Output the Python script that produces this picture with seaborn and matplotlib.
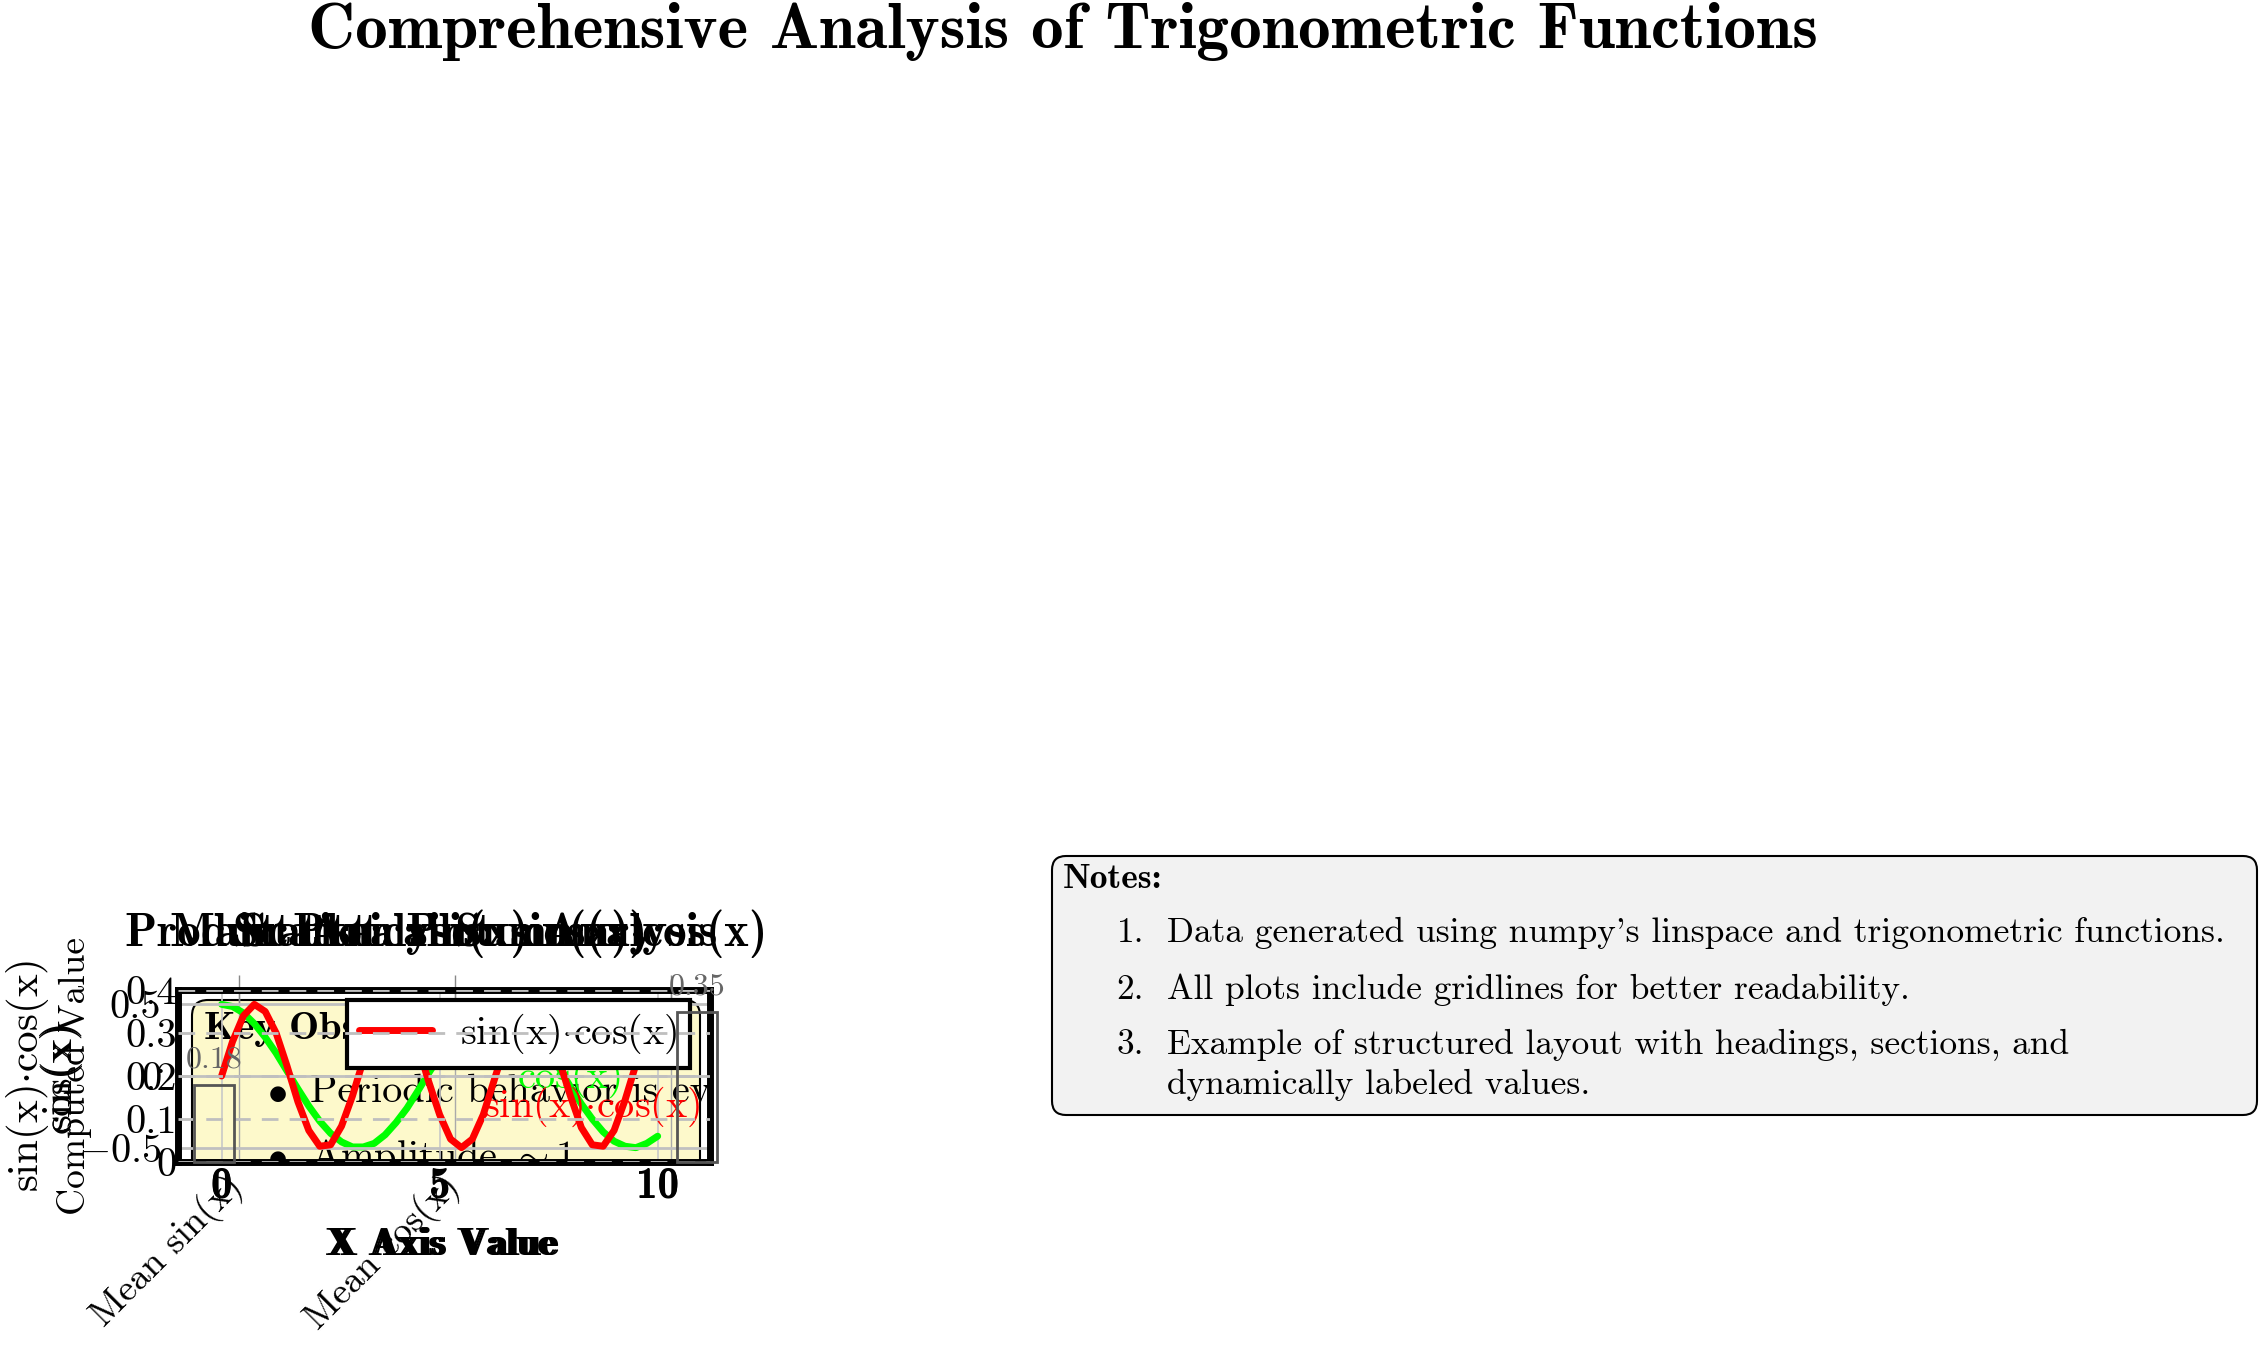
import numpy as np
import pandas as pd
import matplotlib
matplotlib.use("Agg")
import matplotlib.pyplot as plt
import seaborn as sns
from matplotlib.patches import FancyBboxPatch

# values
x_vals = [0.0, 0.25, 0.5, 0.75, 1.0, 1.25, 1.5, 1.75, 2.0, 2.25, 2.5, 2.75, 3.0, 3.25, 3.5, 3.75,
          4.0, 4.25, 4.5, 4.75, 5.0, 5.25, 5.5, 5.75, 6.0, 6.25, 6.5, 6.75, 7.0, 7.25, 7.5, 7.75,
          8.0, 8.25, 8.5, 8.75, 9.0, 9.25, 9.5, 9.75, 10.0]
cos_vals = [1.00, 0.97, 0.88, 0.73, 0.54, 0.32, 0.07, -0.18, -0.42, -0.63, -0.80, -0.92, -0.99, -0.99, -0.94, -0.82,
            -0.65, -0.45, -0.21, 0.04, 0.28, 0.51, 0.71, 0.86, 0.96, 1.00, 0.98, 0.89, 0.75, 0.57, 0.35, 0.10,
            -0.15, -0.39, -0.60, -0.78, -0.91, -0.98, -1.00, -0.94, -0.84]
prod_vals = [0.00, 0.24, 0.42, 0.50, 0.45, 0.30, 0.07, -0.18, -0.38, -0.49, -0.48, -0.35, -0.14, 0.11, 0.33, 0.47,
             0.49, 0.40, 0.21, -0.04, -0.27, -0.44, -0.50, -0.44, -0.27, -0.03, 0.21, 0.40, 0.50, 0.47, 0.33, 0.10,
             -0.14, -0.36, -0.48, -0.49, -0.38, -0.17, 0.08, 0.30, 0.46]
summary_labels = ["Mean sin(x)", "Mean cos(x)"]
summary_values = [0.18, 0.35]
x_ticks = [0, 5, 10]
prod_ticks = [-0.5, 0, 0.5]
summary_ticks = [0, 0.1, 0.2, 0.3, 0.4]
observations = ["Periodic behavior is evident", r"Amplitude $\sim$1"]
notes = [
    ("1.", ["Data generated using numpy's linspace and trigonometric functions."]),
    ("2.", ["All plots include gridlines for better readability."]),
    ("3.", ["Example of structured layout with headings, sections, and",
            "dynamically labeled values."]),
]

sns.set_style("white")
plt.rcParams["font.family"] = ["cmr10", "DejaVu Serif"]
plt.rcParams["mathtext.fontset"] = "cm"
plt.rcParams["axes.unicode_minus"] = False
for key in ["text.color", "axes.labelcolor", "xtick.color", "ytick.color"]:
    plt.rcParams[key] = "black"
BOLD = ["cmb10", "DejaVu Serif"]
PROD = r"sin(x)$\cdot$cos(x)"
FS = 29

W, H = 2260, 1369
fig = plt.figure(figsize=(W / 100, H / 100), dpi=100)


def px_rect(x0, y0, x1, y1):
    return [x0 / W, 1 - y1 / H, (x1 - x0) / W, (y1 - y0) / H]


def fmt(v):
    return f"{v:g}" if v >= 0 else f"$-${abs(v):g}"


panel = px_rect(178, 990, 710, 1162)

# key observations box (bottom layer, clipped to the panel)
ax_obs = fig.add_axes(panel, zorder=0)
ax_obs.set_xlim(0, 532)
ax_obs.set_ylim(0, 172)
ax_obs.axis("off")
ax_obs.add_patch(FancyBboxPatch((14, -80), 508, 242, boxstyle="round,pad=0,rounding_size=16",
                                fc="#fdf9cb", ec="black", lw=1.5))
ax_obs.text(26, 133, "Key Observations:", fontsize=FS, fontfamily=BOLD, va="center", clip_on=True)
for yy, obs in zip([70, 5], observations):
    ax_obs.text(99, yy, r"$\bullet$", fontsize=FS, ha="center", va="center", clip_on=True)
    ax_obs.text(132, yy, obs, fontsize=FS, va="center", clip_on=True)

# secondary axis: long ticks and thin grid
ax_sec = fig.add_axes(panel, facecolor="none", zorder=1)
ax_sec.set_xlim(-1.41, 10.9)
ax_sec.set_ylim(-1.2, 1.2)
ax_sec.set_xticks(x_ticks)
ax_sec.set_yticks([])
ax_sec.tick_params(axis="x", direction="inout", length=22, width=1, color="#888888", top=True,
                   labelbottom=False)
ax_sec.grid(axis="x", color="#aaaaaa", lw=1)
ax_sec.set_ylabel("sin(x)", fontsize=31)
ax_sec.yaxis.set_label_coords(-0.181, 0.5)
ax_sec.set_xlabel("X Axis Value", fontsize=28, fontfamily=BOLD)
ax_sec.xaxis.set_label_coords(0.492, -0.384)
ax_sec.set_title("Scatter Plot: cos(x)", fontsize=34, fontfamily=BOLD, pad=32)
for s in ax_sec.spines.values():
    s.set_visible(False)

# main plot: cos(x)
ax_main = fig.add_axes(panel, facecolor="none", zorder=2)
sns.lineplot(x=x_vals, y=cos_vals, ax=ax_main, color="#00ff00", lw=5)
ax_main.set_xlim(-1.0, 11.2)
ax_main.set_ylim(-1.2, 1.2)
ax_main.set_xticks(x_ticks, [fmt(v) for v in x_ticks], fontsize=31, fontfamily=BOLD)
ax_main.set_yticks([])
ax_main.tick_params(axis="x", length=0, pad=4)
ax_main.grid(axis="x", color="#c8c8c8", lw=1.2)
ax_main.text(8.0, -0.03, "cos(x)", color="#00ff00", fontsize=FS, ha="center", va="center")
ax_main.set_ylabel("cos(x)", fontsize=31)
ax_main.yaxis.set_label_coords(-0.181, 0.5)
ax_main.set_xlabel("X Axis Value", fontsize=28, fontfamily=BOLD)
ax_main.xaxis.set_label_coords(0.496, -0.384)
ax_main.set_title("Main Plot: sin(x) Analysis", fontsize=34, fontfamily=BOLD, pad=32)
for s in ax_main.spines.values():
    s.set_visible(False)

# product plot: sin(x)*cos(x)
ax_prod = fig.add_axes(panel, facecolor="none", zorder=3)
sns.lineplot(x=x_vals, y=prod_vals, ax=ax_prod, color="#ff0000", lw=5, label=PROD)
ax_prod.set_xlim(-1.0, 11.2)
ax_prod.set_ylim(-0.6, 0.6)
ax_prod.set_xticks(x_ticks, [fmt(v) for v in x_ticks], fontsize=31, fontfamily=BOLD)
ax_prod.set_yticks(prod_ticks, [fmt(v) for v in prod_ticks], fontsize=FS)
ax_prod.tick_params(axis="x", length=0, pad=3)
ax_prod.tick_params(axis="y", length=0, pad=12)
ax_prod.grid(axis="y", color="#c0c0c0", lw=2)
ax_prod.text(8.49, -0.214, PROD, color="#ff0000", fontsize=FS, ha="center", va="center")
ax_prod.set_ylabel(PROD, fontsize=31)
ax_prod.yaxis.set_label_coords(-0.238, 0.5)
ax_prod.set_xlabel("X Axis Value", fontsize=28, fontfamily=BOLD)
ax_prod.xaxis.set_label_coords(0.5, -0.384)
ax_prod.set_title("Product Analysis: " + PROD, fontsize=34, fontfamily=BOLD, pad=32)
for s in ax_prod.spines.values():
    s.set_visible(True)
    s.set_color("black")
    s.set_linewidth(5)
leg = ax_prod.legend(loc="upper right", bbox_to_anchor=(0.962, 0.942), fontsize=FS, frameon=True,
                     fancybox=False, framealpha=1, edgecolor="black", borderpad=0.3,
                     handlelength=1.8, handletextpad=0.7, borderaxespad=0)
leg.get_frame().set_linewidth(3)

# statistical summary bars (top layer: its dashed grid runs over the legend)
ax_bar = fig.add_axes(panel, facecolor="none", zorder=4)
df_bar = pd.DataFrame({"stat": summary_labels, "value": summary_values})
sns.barplot(data=df_bar, x="stat", y="value", ax=ax_bar, fill=False, color="#555555",
            width=0.083, linewidth=2, errorbar=None)
for p in ax_bar.patches:
    p.set_clip_on(False)
ax_bar.bar_label(ax_bar.containers[0], fmt="%.2f", padding=8, color="#666666", fontsize=23)
ax_bar.set_xlim(-0.0745, 1.0268)
ax_bar.set_ylim(0, 0.4)
ax_bar.set_yticks(summary_ticks, [fmt(v) for v in summary_ticks], fontsize=FS)
ax_bar.set_xticks([0.02, 0.47], summary_labels, rotation=45, ha="right", rotation_mode="anchor",
                  fontsize=27)
ax_bar.tick_params(axis="x", length=0, pad=4)
ax_bar.tick_params(axis="y", length=0, pad=1)
ax_bar.grid(axis="y", ls=(0, (6, 4)), color="#bfbfbf", lw=2)
ax_bar.set_xlabel("")
ax_bar.set_ylabel("Computed Value", fontsize=27)
ax_bar.yaxis.set_label_coords(-0.162, 0.5)
ax_bar.set_title("Statistical Summary", fontsize=34, fontfamily=BOLD, pad=32)
for s in ax_bar.spines.values():
    s.set_visible(False)

# notes panel
ax_notes = fig.add_axes(px_rect(1051, 855, 2258, 1116))
ax_notes.set_xlim(0, 1207)
ax_notes.set_ylim(0, 261)
ax_notes.axis("off")
ax_notes.add_patch(FancyBboxPatch((1, 1), 1205, 259, boxstyle="round,pad=0,rounding_size=14",
                                  fc="#f2f2f2", ec="black", lw=1.5, clip_on=False))
ax_notes.text(12, 236, "Notes:", fontsize=25.5, fontfamily=BOLD, va="center")
yy = [183, 126, 71, 31]
i = 0
for num, lines in notes:
    ax_notes.text(93, yy[i], num, fontsize=25.5, ha="right", va="center")
    for line in lines:
        ax_notes.text(116, yy[i], line, fontsize=25.5, va="center")
        i += 1

fig.text(0.4704, 0.9767, "Comprehensive Analysis of Trigonometric Functions", fontsize=47,
         fontfamily=BOLD, ha="center", va="center")

fig.savefig("out.png", dpi=100)
